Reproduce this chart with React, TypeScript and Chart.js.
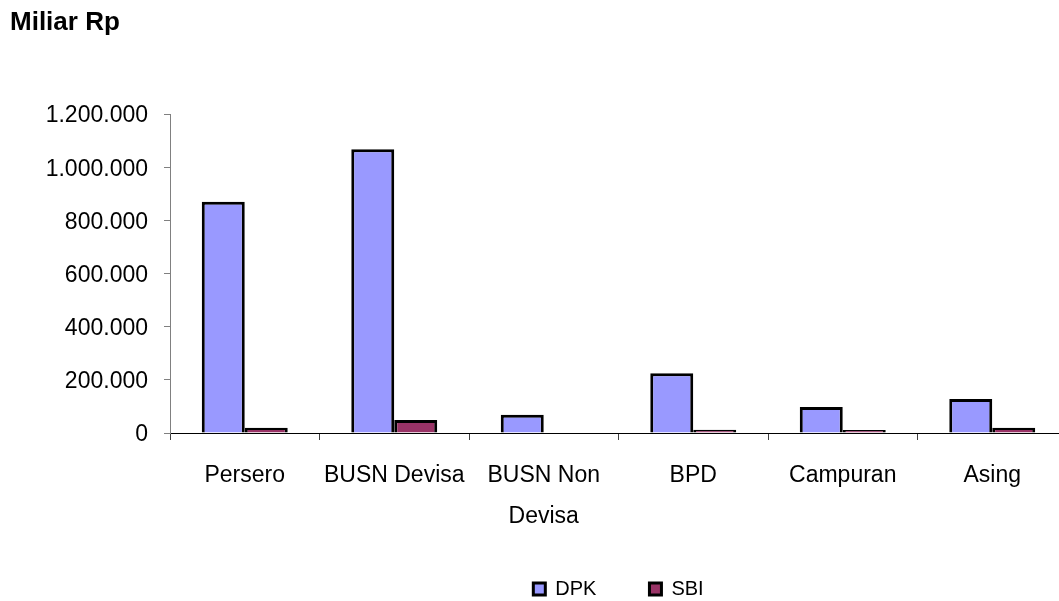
import React, { useEffect, useRef } from "react";
import { Chart, registerables } from "chart.js";

Chart.register(...registerables);

const categories: (string | string[])[] = [
  "Persero",
  "BUSN Devisa",
  ["BUSN Non", "Devisa"],
  "BPD",
  "Campuran",
  "Asing",
];
const dpkValues = [870000, 1067000, 69000, 225000, 98000, 128000];
const sbiValues = [20000, 49000, 0, 12000, 11000, 20000];
const seriesNames = ["DPK", "SBI"];
const titleText = "Miliar Rp";
const yMin = 0;
const yMax = 1200000;
const yStep = 200000;

const formatThousands = (v: number) =>
  String(Math.round(v)).replace(/\B(?=(\d{3})+(?!\d))/g, ".");

export default function App() {
  const canvasRef = useRef<HTMLCanvasElement | null>(null);

  useEffect(() => {
    if (!canvasRef.current) return;
    Chart.defaults.font.family = "'Liberation Sans', Arial, sans-serif";
    Chart.defaults.color = "#000";
    const chart = new Chart(canvasRef.current, {
      type: "bar",
      data: {
        labels: categories,
        datasets: [
          {
            label: seriesNames[0],
            data: dpkValues,
            backgroundColor: "#9999FF",
            borderColor: "#000000",
            borderWidth: 3,
            categoryPercentage: 0.575,
            barPercentage: 1,
          },
          {
            label: seriesNames[1],
            data: sbiValues,
            backgroundColor: "#993366",
            borderColor: "#000000",
            borderWidth: 3,
            categoryPercentage: 0.575,
            barPercentage: 1,
          },
        ],
      },
      options: {
        animation: false,
        responsive: true,
        maintainAspectRatio: false,
        layout: { padding: { left: 10, right: 13, top: 0, bottom: 11 } },
        plugins: {
          title: {
            display: true,
            text: titleText,
            align: "start",
            color: "#000",
            font: { size: 26, weight: "bold" },
            padding: { top: 7, bottom: 75.8 },
          },
          legend: {
            position: "bottom",
            fullSize: false,
            labels: {
              boxWidth: 12,
              boxHeight: 12,
              padding: 53,
              color: "#000",
              font: { size: 20 },
            },
          },
          tooltip: { enabled: false },
        },
        scales: {
          x: {
            offset: true,
            grid: {
              display: true,
              drawOnChartArea: false,
              drawTicks: true,
              tickLength: 7,
              color: "#404040",
              offset: true,
            },
            border: { display: true, color: "#000", width: 1 },
            ticks: {
              padding: 16,
              font: { size: 23, lineHeight: 1.75 },
              color: "#000",
              maxRotation: 0,
              autoSkip: false,
            },
            afterFit: (scale: any) => {
              scale.height = 93;
            },
          },
          y: {
            min: yMin,
            max: yMax,
            grid: {
              display: true,
              drawOnChartArea: false,
              drawTicks: true,
              tickLength: 6,
              color: "#808080",
            },
            border: { display: true, color: "#808080", width: 1 },
            ticks: {
              stepSize: yStep,
              padding: 16,
              labelOffset: 2,
              font: { size: 23 },
              color: "#000",
              callback: (v: any) => formatThousands(Number(v)),
            },
            afterFit: (scale: any) => {
              scale.width = 160;
            },
          },
        },
      },
    });
    return () => chart.destroy();
  }, []);

  return (
    <div
      style={{
        position: "absolute",
        left: 0,
        top: 0,
        width: 1059,
        height: 601,
        overflow: "hidden",
        background: "#fff",
      }}
    >
      <div style={{ position: "relative", width: 1080, height: 620 }}>
        <canvas ref={canvasRef} />
      </div>
    </div>
  );
}
